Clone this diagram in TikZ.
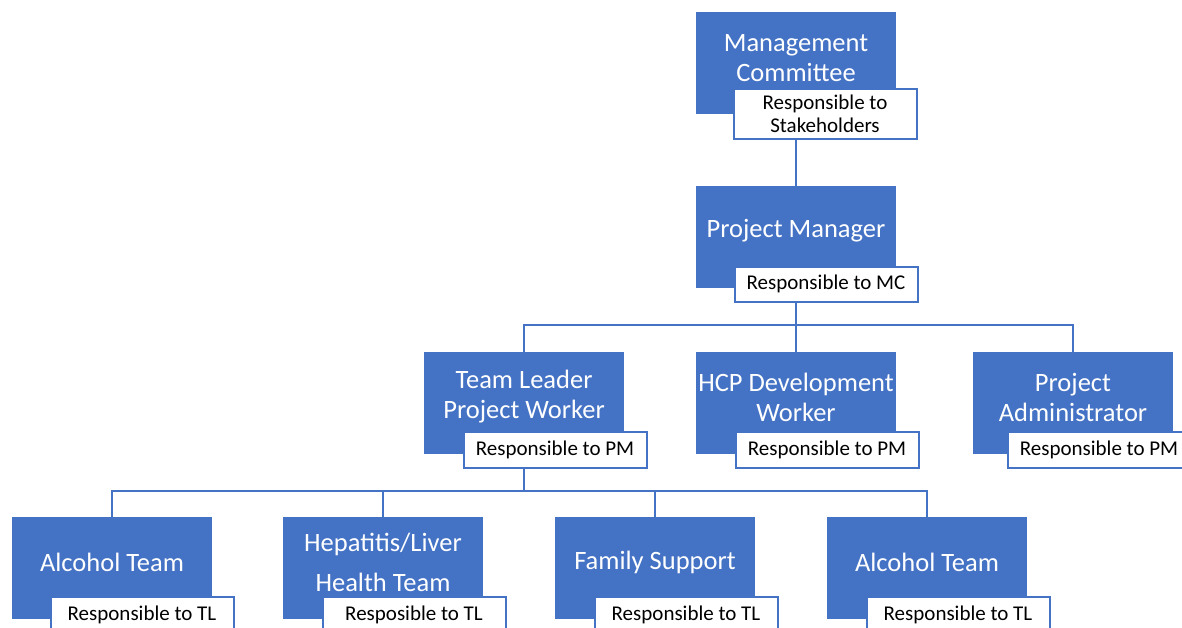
\documentclass[tikz,border=0pt]{standalone}
\usepackage{fontspec}
\setmainfont{Carlito}
\definecolor{orgblue}{HTML}{4472C4}
\begin{document}
\begin{tikzpicture}[x=1pt,y=-1pt,
  unitbox/.style={rectangle, fill=orgblue, draw=none, minimum width=200pt,
    minimum height=102pt, inner sep=0pt, outer sep=0pt},
  unittext/.style={text=white, align=center, inner sep=0pt,
    font=\fontsize{26.5}{30}\selectfont},
  tagbox/.style={rectangle, fill=white, draw=orgblue, line width=2pt,
    minimum width=183pt, minimum height=36pt, inner sep=0pt, outer sep=0pt,
    align=center, font=\fontsize{21}{23.5}\selectfont},
  link/.style={draw=orgblue, line width=2.6pt}]
\useasboundingbox (0,0) rectangle (1182,628);
\clip (0,0) rectangle (1182,628);

% bus lines between levels
\coordinate (busA) at (0,325);
\coordinate (busB) at (0,491);

% top level
\node[unitbox] (mc) at (796,63) {};
\node[unittext] (mct) at (796,58) {Management\\Committee};
\node[tagbox, minimum height=50pt] (mctag) at (825,114) {Responsible to\\Stakeholders};

\node[unitbox] (pm) at (796,237) {};
\node[unittext] (pmt) at (796,231) {Project Manager};
\node[tagbox, minimum height=35pt] (pmtag) at (826,284) {Responsible to MC};

% second level
\node[unitbox] (tl) at (524,403) {};
\node[unittext] (tlt) at (524,397) {Team Leader\\Project Worker};
\node[tagbox] (tltag) at (555,450) {Responsible to PM};

\node[unitbox] (hcp) at (796,403) {};
\node[unittext] (hcpt) at (796,397) {HCP Development\\Worker};
\node[tagbox] (hcptag) at (827,450) {Responsible to PM};

\node[unitbox] (pa) at (1073,403) {};
\node[unittext] (pat) at (1073,397) {Project\\Administrator};
\node[tagbox] (patag) at (1099,450) {Responsible to PM};

% third level
\node[unitbox] (al1) at (112,568) {};
\node[unittext] (al1t) at (112,562) {Alcohol Team};
\node[tagbox] (al1tag) at (142,615) {Responsible to TL};

\node[unitbox] (hep) at (383,568) {};
\node[unittext, font=\fontsize{26.5}{40}\selectfont] (hept) at (383,562) {Hepatitis/Liver\\Health Team};
\node[tagbox] (heptag) at (414,615) {Resposible to TL};

\node[unitbox] (fs) at (655,568) {};
\node[unittext] (fst) at (655,562) {Family Support};
\node[tagbox] (fstag) at (686,615) {Responsible to TL};

\node[unitbox] (al2) at (927,568) {};
\node[unittext] (al2t) at (927,562) {Alcohol Team};
\node[tagbox] (al2tag) at (958,615) {Responsible to TL};

% connectors
\draw[link] (mctag.south -| mc.center) -- (pm.north);

\draw[link] (pmtag.south -| pm.center) -- (hcp.north);
\draw[link] (tl.north) -- (tl.north |- busA) -- (pa.north |- busA) -- (pa.north);

\draw[link] (tltag.south -| tl.center) -- (tl.center |- busB);
\draw[link] (al1.north) -- (al1.north |- busB) -- (al2.north |- busB) -- (al2.north);
\draw[link] (hep.north) -- (hep.north |- busB);
\draw[link] (fs.north) -- (fs.north |- busB);
\end{tikzpicture}
\end{document}
